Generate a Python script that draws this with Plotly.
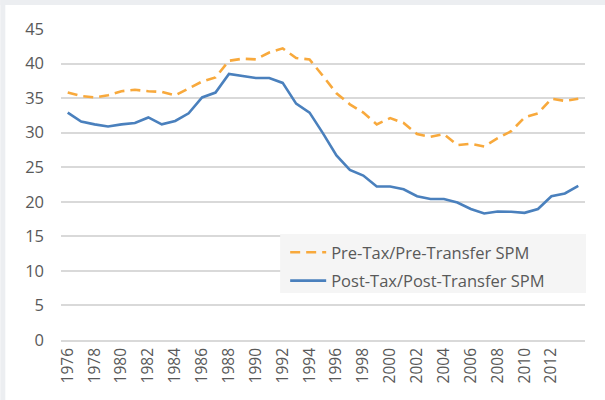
import plotly.graph_objects as go

years = list(range(1976, 2015))
pre_tax = [35.8, 35.3, 35.1, 35.4, 36.0, 36.2, 36.0, 35.9, 35.4, 36.4, 37.4, 38.0, 40.4, 40.7,
           40.6, 41.6, 42.2, 40.8, 40.6, 38.2, 35.7, 34.1, 32.9, 31.2, 32.1, 31.4, 29.8, 29.4,
           29.8, 28.2, 28.4, 28.0, 29.2, 30.2, 32.2, 32.8, 34.9, 34.6, 34.9]
post_tax = [32.9, 31.6, 31.2, 30.9, 31.2, 31.4, 32.2, 31.2, 31.7, 32.8, 35.1, 35.8, 38.5, 38.2,
            37.9, 37.9, 37.2, 34.2, 32.9, 29.9, 26.7, 24.6, 23.8, 22.2, 22.2, 21.8, 20.8, 20.4,
            20.4, 19.9, 18.95, 18.3, 18.6, 18.55, 18.4, 18.95, 20.8, 21.2, 22.3]
x_ticks = list(range(1976, 2013, 2))
y_ticks = list(range(0, 46, 5))
names = ["Pre-Tax/Pre-Transfer SPM", "Post-Tax/Post-Transfer SPM"]

FONT = "Open Sans, Noto Sans, sans-serif"
GRAY = "#595959"

fig = go.Figure()
fig.add_trace(go.Scatter(x=years, y=pre_tax, mode="lines", name=names[0], legendgroup="a",
                         line=dict(color="#F8A93C", width=2.6, dash="10px,6px")))
fig.add_trace(go.Scatter(x=years, y=post_tax, mode="lines", name=names[1], legendgroup="b",
                         line=dict(color="#4A80BD", width=2.6)))

W, H = 605, 400
L, R, T, B = 60.7, 20, 29, 60
pw, ph = W - L - R, H - T - B

def px(xp):
    return (xp - L) / pw

def py(yp):
    return (H - B - yp) / ph

shapes = [
    # gray outer border (top and left)
    dict(type="rect", xref="paper", yref="paper", x0=px(0), x1=px(W), y0=py(5), y1=py(0),
         fillcolor="#eceef1", line_width=0, layer="above"),
    dict(type="rect", xref="paper", yref="paper", x0=px(0), x1=px(5), y0=py(H), y1=py(0),
         fillcolor="#eceef1", line_width=0, layer="above"),
    # legend box
    dict(type="rect", xref="paper", yref="paper", x0=px(280), x1=px(586), y0=py(293), y1=py(234),
         fillcolor="#f5f5f5", line_width=0, layer="above"),
]

fig.update_layout(
    width=W, height=H,
    margin=dict(l=L, r=R, t=T, b=B, autoexpand=False),
    paper_bgcolor="white", plot_bgcolor="white",
    font=dict(family=FONT, color=GRAY, size=15),
    shapes=shapes,
    showlegend=True,
    legend=dict(x=px(285), y=py(235), xanchor="left", yanchor="top",
                bgcolor="rgba(0,0,0,0)", font=dict(size=16.5, color=GRAY),
                traceorder="grouped", tracegroupgap=4, itemwidth=36),
    xaxis=dict(range=[1975.5, 2014.5], tickvals=x_ticks, ticktext=[str(v) for v in x_ticks],
               tickangle=-90, showgrid=False, showline=True, linecolor="#d9d9d9", linewidth=1.5,
               ticks="", zeroline=False, tickfont=dict(size=15.5, color=GRAY)),
    yaxis=dict(range=[0, 45], tickvals=y_ticks, showgrid=True, gridcolor="#d9d9d9", gridwidth=1.5,
               zeroline=False, showline=False, ticks="", ticklabelstandoff=16,
               tickfont=dict(size=16.5, color=GRAY)),
)

fig.write_html("out.html", config={"displayModeBar": False},
               post_script="document.body.style.margin='0';document.body.style.padding='0';")
